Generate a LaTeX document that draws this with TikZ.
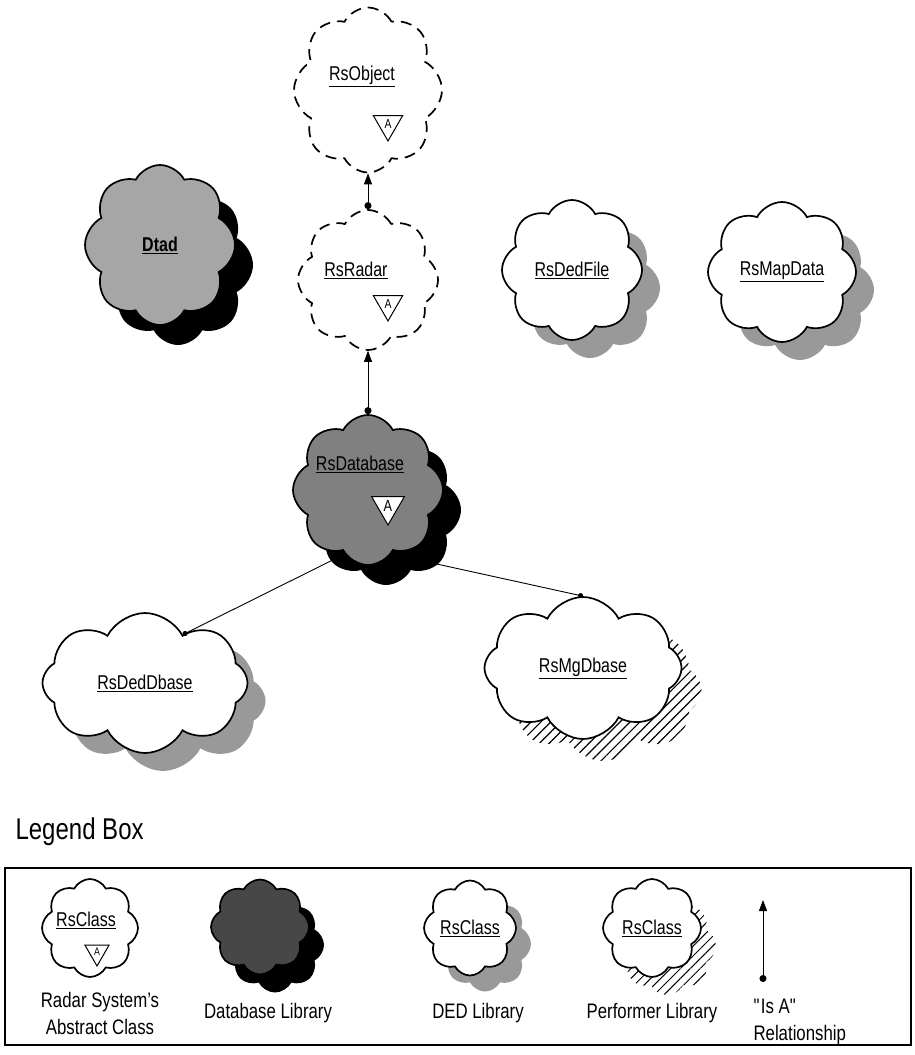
\documentclass[tikz,border=0pt]{standalone}
\usepackage{fontspec}
\setmainfont{Liberation Sans}[FakeStretch=0.8]
\usetikzlibrary{shapes.symbols,shapes.geometric,shadows,patterns.meta,arrows.meta,calc}

\newcommand\cloudfont{\fontsize{20}{22}\selectfont}
\newcommand\legendfont{\fontsize{21}{27}\selectfont}
\newcommand\markfont{\fontsize{13}{14}\selectfont}

\tikzset{
  cls/.style={cloud, cloud puffs=8, cloud puff arc=125, cloud ignores aspect,
    draw, line width=1.7pt, fill=white, inner sep=0pt, font=\cloudfont},
  abstract/.style={cls, dash pattern=on 11pt off 7pt},
  dbshadow/.style={drop shadow={shadow xshift=18pt, shadow yshift=-20pt, fill=black, opacity=1}},
  dedshadow/.style={drop shadow={shadow xshift=18pt, shadow yshift=-18pt, fill=black!40, opacity=1}},
  perfshadow/.style={drop shadow={shadow xshift=20pt, shadow yshift=-22pt, opacity=1,
    pattern={Lines[angle=45, distance=7pt, line width=1.2pt]}}},
  absmark/.style={regular polygon, regular polygon sides=3, shape border rotate=180,
    draw, line width=1pt, fill=white, minimum size=34pt, inner sep=0pt, font=\markfont},
  isa/.style={{Circle[length=7pt]}-{Triangle[length=11pt, width=8pt]}, line width=0.8pt},
  link/.style={-{Circle[length=5pt]}, line width=0.9pt},
  lgtext/.style={font=\legendfont, align=center},
}

\begin{document}
\begin{tikzpicture}[x=1pt, y=-1pt]
    \useasboundingbox (0,0) rectangle (914,1055);

    % -----------------------------------------
    % 1. abstract classes (dashed)
    % -----------------------------------------
    \node[abstract, minimum width=148pt, minimum height=165pt] (object) at (368,90) {};
    \node[font=\cloudfont] (objlbl) at ($(object.center)+(-6,-14)$) {\underline{RsObject}};
    \node[absmark] (objmark) at ($(object.center)+(20,34)$) {A};

    \node[abstract, minimum width=140pt, minimum height=140pt] (radar) at (368,280) {};
    \node[font=\cloudfont] (radlbl) at ($(radar.center)+(-12,-10)$) {\underline{RsRadar}};
    \node[absmark] (radmark) at ($(radar.center)+(20,24)$) {A};

    % -----------------------------------------
    % 2. library classes (shadowed)
    % -----------------------------------------
    \node[cls, dbshadow, fill=black!35, font=\cloudfont\bfseries,
          minimum width=150pt, minimum height=160pt] (dtad) at (160,245) {\underline{Dtad}};

    \node[cls, dedshadow, minimum width=140pt, minimum height=140pt] (dedfile) at (572,270) {\underline{RsDedFile}};
    \node[cls, dedshadow, minimum width=148pt, minimum height=140pt] (mapdata) at (782,272) {\underline{RsMapData}};

    \node[cls, dbshadow, fill=black!50, minimum width=150pt, minimum height=150pt] (db) at (368,490) {};
    \node[font=\cloudfont] (dblbl) at ($(db.center)+(-8,-26)$) {\underline{RsDatabase}};
    \node[absmark, minimum size=38pt] (dbmark) at ($(db.center)+(20,16)$) {\fontsize{16}{17}\selectfont A};

    \node[cls, dedshadow, minimum width=205pt, minimum height=140pt] (deddb) at (145,683) {\underline{RsDedDbase}};
    \node[cls, perfshadow, minimum width=197pt, minimum height=142pt] (mgdb) at (583,668) {\underline{RsMgDbase}};

    % -----------------------------------------
    % 3. relationships
    % -----------------------------------------
    \draw[isa] (radar.north) -- (object.south);
    \draw[isa] (db.north) -- (radar.south);
    \draw[link] (db.250) -- (deddb.52);
    \draw[link] (db.290) -- (mgdb.north);

    % -----------------------------------------
    % 4. legend
    % -----------------------------------------
    \node[anchor=west, font=\fontsize{30}{32}\selectfont] (lgtitle) at (12,832) {Legend Box};
    \draw[line width=1.2pt] (5,868) rectangle (911,1045);

    \node[cls, minimum width=96pt, minimum height=98pt] (lgabs) at (90,928) {};
    \node[font=\cloudfont] (lgabslbl) at ($(lgabs.center)+(-4,-8)$) {\underline{RsClass}};
    \node[absmark, minimum size=28pt, font=\fontsize{11}{12}\selectfont] (lgabsmark) at ($(lgabs.center)+(7,24)$) {A};
    \node[lgtext] (lgabstxt) at (100,1013) {Radar System's\\Abstract Class};

    \node[cls, drop shadow={shadow xshift=15pt, shadow yshift=-18pt, fill=black, opacity=1},
          fill=black!72, minimum width=98pt, minimum height=95pt] (lgdb) at (260,927) {};
    \node[lgtext] (lgdbtxt) at (268,1013) {Database Library};

    \node[cls, drop shadow={shadow xshift=15pt, shadow yshift=-16pt, fill=black!40, opacity=1},
          minimum width=92pt, minimum height=95pt] (lgded) at (470,928) {\underline{RsClass}};
    \node[lgtext] (lgdedtxt) at (478,1013) {DED Library};

    \node[cls, drop shadow={shadow xshift=15pt, shadow yshift=-18pt, opacity=1,
          pattern={Lines[angle=45, distance=7pt, line width=1pt]}},
          minimum width=98pt, minimum height=98pt] (lgperf) at (652,928) {\underline{RsClass}};
    \node[lgtext] (lgperftxt) at (652,1013) {Performer Library};

    \coordinate (isatail) at (763,982);
    \coordinate (isahead) at (763,900);
    \draw[isa] (isatail) -- (isahead);
    \node[font=\legendfont, align=left, anchor=west] (isatxt) at (750,1022) {\textquotedbl Is A\textquotedbl\\Relationship};

\end{tikzpicture}
\end{document}
